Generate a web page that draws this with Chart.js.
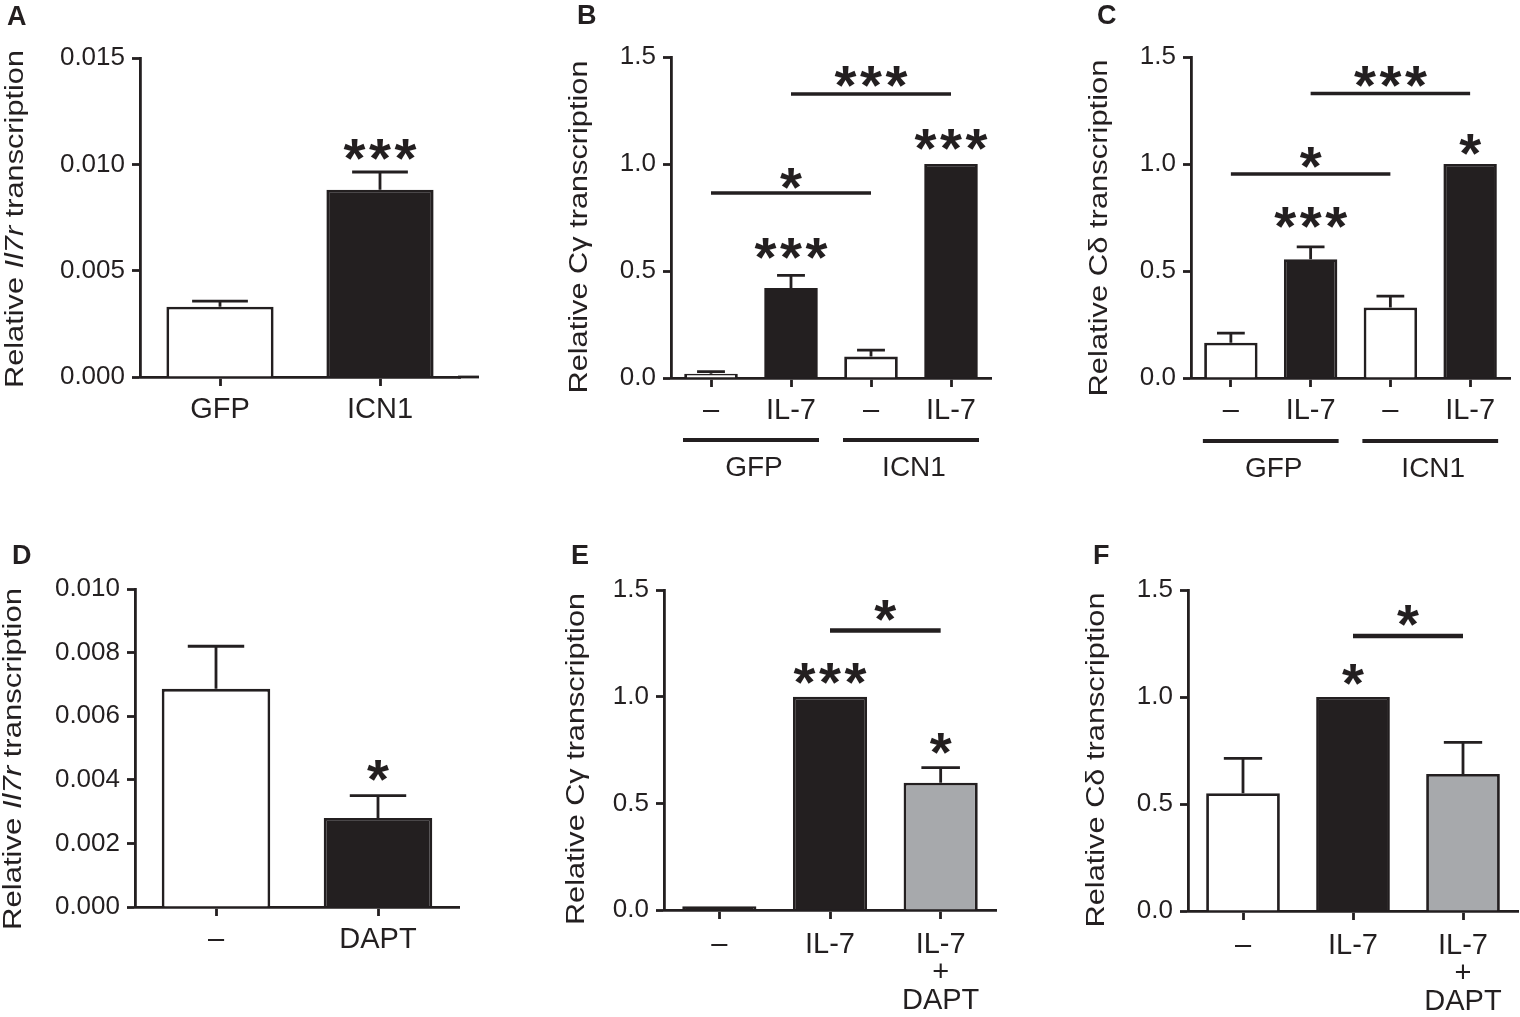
<!DOCTYPE html>
<html>
<head>
<meta charset="utf-8">
<script src="https://cdn.jsdelivr.net/npm/chart.js@4.4.1/dist/chart.umd.min.js"></script>
<style>
html,body{margin:0;padding:0;background:#ffffff;}
body{width:1520px;height:1017px;position:relative;overflow:hidden;}
canvas{position:absolute;display:block;}
</style>
</head>
<body>
<canvas id="cA" width="500" height="490" style="left:0px;top:0px"></canvas>
<canvas id="cB" width="520" height="490" style="left:500px;top:0px"></canvas>
<canvas id="cC" width="500" height="490" style="left:1020px;top:0px"></canvas>
<canvas id="cD" width="500" height="527" style="left:0px;top:490px"></canvas>
<canvas id="cE" width="520" height="527" style="left:500px;top:490px"></canvas>
<canvas id="cF" width="500" height="527" style="left:1020px;top:490px"></canvas>
<script>
// ---------------- DATA ----------------
// Panel A: Il7r transcription, GFP vs ICN1
const aCategories = ['GFP', 'ICN1'];
const aValues = [0.0033, 0.0088];
const aErrors = [0.00027, 0.00084];
const aYTicks = [0, 0.005, 0.010, 0.015];
const aMarks = [{cat: 1, text: '***', at: 0.0107}];
const aBrackets = [];

// Panel B: Cγ transcription
const bCategories = ['–', 'IL-7', '–', 'IL-7'];
const bGroups = [{label: 'GFP', from: 0, to: 1}, {label: 'ICN1', from: 2, to: 3}];
const bValues = [0.02, 0.42, 0.10, 1.0];
const bErrors = [0.01, 0.06, 0.03, 0];
const bYTicks = [0, 0.5, 1.0, 1.5];
const bMarks = [{cat: 1, text: '***', at: 0.607}, {cat: 3, text: '***', at: 1.115}];
const bBrackets = [{from: 0, to: 2, at: 0.865, text: '*', textAt: 0.93},
                   {from: 1, to: 3, at: 1.327, text: '***', textAt: 1.41}];

// Panel C: Cδ transcription
const cCategories = ['–', 'IL-7', '–', 'IL-7'];
const cGroups = [{label: 'GFP', from: 0, to: 1}, {label: 'ICN1', from: 2, to: 3}];
const cValues = [0.165, 0.555, 0.33, 1.0];
const cErrors = [0.045, 0.058, 0.053, 0];
const cYTicks = [0, 0.5, 1.0, 1.5];
const cMarks = [{cat: 1, text: '***', at: 0.752}, {cat: 3, text: '*', at: 1.093}];
const cBrackets = [{from: 0, to: 2, at: 0.953, text: '*', textAt: 1.03},
                   {from: 1, to: 3, at: 1.33, text: '***', textAt: 1.41}];

// Panel D: Il7r transcription, – vs DAPT
const dCategories = ['–', 'DAPT'];
const dValues = [0.00686, 0.0028];
const dErrors = [0.00134, 0.0007];
const dYTicks = [0, 0.002, 0.004, 0.006, 0.008, 0.010];
const dMarks = [{cat: 1, text: '*', at: 0.0043}];
const dBrackets = [];

// Panel E: Cγ transcription
const eCategories = ['–', 'IL-7', ['IL-7', '+', 'DAPT']];
const eValues = [0.017, 1.0, 0.597];
const eErrors = [0, 0, 0.07];
const eYTicks = [0, 0.5, 1.0, 1.5];
const eMarks = [{cat: 1, text: '***', at: 1.11}, {cat: 2, text: '*', at: 0.782}];
const eBrackets = [{from: 1, to: 2, at: 1.31, text: '*', textAt: 1.406}];

// Panel F: Cδ transcription
const fCategories = ['–', 'IL-7', ['IL-7', '+', 'DAPT']];
const fValues = [0.55, 1.0, 0.64];
const fErrors = [0.163, 0, 0.148];
const fYTicks = [0, 0.5, 1.0, 1.5];
const fMarks = [{cat: 1, text: '*', at: 1.107}];
const fBrackets = [{from: 1, to: 2, at: 1.285, text: '*', textAt: 1.381}];

// ---------------- STYLE ----------------
const FONT = "'Liberation Sans', Arial, Helvetica, sans-serif";
const INK = '#231f20';
const WHITE = '#ffffff';
const GREY = '#a7a9ac';
const LW = 2.8;

const panels = [
  {id: 'cA', letter: 'A', letterPos: [7, 24], cats: aCategories, values: aValues, errors: aErrors,
   yTicks: aYTicks, decimals: 3, fills: [WHITE, INK], marks: aMarks, brackets: aBrackets, groups: [],
   title: [['Relative ', ''], ['Il7r', 'italic '], [' transcription', '']],
   titleBase: 23, titleCenter: 219, titleLen: 338,
   box: {yW: 140, padT: 58, padR: 40, xH: 113}, axisExt: 19, tickPad: 10, bracketW: 3.5},
  {id: 'cB', letter: 'B', letterPos: [77, 23], cats: bCategories, values: bValues, errors: bErrors,
   yTicks: bYTicks, decimals: 1, fills: [WHITE, INK, WHITE, INK], marks: bMarks, brackets: bBrackets, groups: bGroups,
   title: [['Relative Cγ transcription', '']],
   titleBase: 87, titleCenter: 227, titleLen: 333,
   box: {yW: 171, padT: 57, padR: 29, xH: 112}, axisExt: 0, tickPad: 10, bracketW: 3.5,
   groupLineY: 440, groupTextY: 476, groupExt: 28},
  {id: 'cC', letter: 'C', letterPos: [77, 23], cats: cCategories, values: cValues, errors: cErrors,
   yTicks: cYTicks, decimals: 1, fills: [WHITE, INK, WHITE, INK], marks: cMarks, brackets: cBrackets, groups: cGroups,
   title: [['Relative Cδ transcription', '']],
   titleBase: 87, titleCenter: 228, titleLen: 337,
   box: {yW: 171, padT: 57, padR: 10, xH: 112}, axisExt: 0, tickPad: 10, bracketW: 3.5,
   groupLineY: 441, groupTextY: 477, groupExt: 28},
  {id: 'cD', letter: 'D', letterPos: [12, 73], cats: dCategories, values: dValues, errors: dErrors,
   yTicks: dYTicks, decimals: 3, fills: [WHITE, INK], marks: dMarks, brackets: dBrackets, groups: [],
   title: [['Relative ', ''], ['Il7r', 'italic '], [' transcription', '']],
   titleBase: 21, titleCenter: 269, titleLen: 342,
   box: {yW: 135, padT: 99, padR: 41, xH: 110}, axisExt: 0, tickPad: 10, bracketW: 3.5},
  {id: 'cE', letter: 'E', letterPos: [71, 73], cats: eCategories, values: eValues, errors: eErrors,
   yTicks: eYTicks, decimals: 1, fills: [INK, INK, GREY], marks: eMarks, brackets: eBrackets, groups: [],
   title: [['Relative Cγ transcription', '']],
   titleBase: 84, titleCenter: 269, titleLen: 332,
   box: {yW: 164, padT: 100, padR: 24, xH: 107}, axisExt: 0, tickPad: 12, bracketW: 4.5},
  {id: 'cF', letter: 'F', letterPos: [73, 73], cats: fCategories, values: fValues, errors: fErrors,
   yTicks: fYTicks, decimals: 1, fills: [WHITE, INK, GREY], marks: fMarks, brackets: fBrackets, groups: [],
   title: [['Relative Cδ transcription', '']],
   titleBase: 84, titleCenter: 270, titleLen: 335,
   box: {yW: 168, padT: 100, padR: 2, xH: 106}, axisExt: 0, tickPad: 12, bracketW: 4.5}
];

function drawStars(ctx, text, cx, cy) {
  ctx.save();
  ctx.fillStyle = INK;
  ctx.font = 'bold 100px ' + FONT;
  const m100 = ctx.measureText('*');
  const w100 = m100.actualBoundingBoxLeft + m100.actualBoundingBoxRight;
  const size = 100 * 22 / w100;
  ctx.font = 'bold ' + size.toFixed(1) + 'px ' + FONT;
  ctx.textAlign = 'center';
  ctx.textBaseline = 'alphabetic';
  const m = ctx.measureText('*');
  const dy = (m.actualBoundingBoxAscent - m.actualBoundingBoxDescent) / 2;
  const dx = (m.actualBoundingBoxLeft - m.actualBoundingBoxRight) / 2;
  const n = text.length;
  const sp = 25.5;
  for (let i = 0; i < n; i++) {
    const x = cx + (i - (n - 1) / 2) * sp;
    ctx.fillText('*', x + dx, cy + dy);
  }
  ctx.restore();
}

function makeExtras(p) {
  return {
    id: 'extras_' + p.id,
    afterDatasetsDraw(chart) {
      const ctx = chart.ctx;
      const xs = chart.scales.x, ys = chart.scales.y;
      const area = chart.chartArea;
      ctx.save();
      ctx.strokeStyle = INK;
      ctx.fillStyle = INK;
      ctx.lineCap = 'butt';
      // axis extension to the right (panel A)
      if (p.axisExt) {
        ctx.lineWidth = LW;
        ctx.beginPath();
        ctx.moveTo(area.right - 2, area.bottom);
        ctx.lineTo(area.right + p.axisExt, area.bottom);
        ctx.stroke();
      }
      // error bars (upper)
      const meta = chart.getDatasetMeta(0);
      ctx.lineWidth = LW;
      meta.data.forEach((bar, i) => {
        const e = p.errors[i];
        if (!e) return;
        const props = bar.getProps(['x', 'width'], true);
        const yv = ys.getPixelForValue(p.values[i]);
        const yt = ys.getPixelForValue(p.values[i] + e);
        const hw = props.width * 0.26;
        ctx.beginPath();
        ctx.moveTo(props.x, yv);
        ctx.lineTo(props.x, yt);
        ctx.moveTo(props.x - hw, yt);
        ctx.lineTo(props.x + hw, yt);
        ctx.stroke();
      });
      // significance marks over bars
      p.marks.forEach(mk => {
        drawStars(ctx, mk.text, xs.getPixelForValue(mk.cat), ys.getPixelForValue(mk.at));
      });
      // brackets
      p.brackets.forEach(b => {
        const x0 = xs.getPixelForValue(b.from), x1 = xs.getPixelForValue(b.to);
        const y = ys.getPixelForValue(b.at);
        ctx.lineWidth = p.bracketW;
        ctx.beginPath();
        ctx.moveTo(x0, y);
        ctx.lineTo(x1, y);
        ctx.stroke();
        drawStars(ctx, b.text, (x0 + x1) / 2, ys.getPixelForValue(b.textAt));
      });
      // group underlines + labels
      p.groups.forEach(g => {
        const x0 = xs.getPixelForValue(g.from) - p.groupExt;
        const x1 = xs.getPixelForValue(g.to) + p.groupExt;
        ctx.lineWidth = 3.8;
        ctx.beginPath();
        ctx.moveTo(x0, p.groupLineY);
        ctx.lineTo(x1, p.groupLineY);
        ctx.stroke();
        ctx.font = '28px ' + FONT;
        ctx.textAlign = 'center';
        ctx.textBaseline = 'alphabetic';
        ctx.fillText(g.label, (x0 + x1) / 2 + 3, p.groupTextY);
      });
      // y-axis title (rotated, with italic gene name)
      ctx.save();
      ctx.translate(p.titleBase, p.titleCenter);
      ctx.rotate(-Math.PI / 2);
      const fs = 26;
      let total = 0;
      const widths = p.title.map(seg => {
        ctx.font = seg[1] + fs + 'px ' + FONT;
        const w = ctx.measureText(seg[0]).width;
        total += w;
        return w;
      });
      const s = p.titleLen / total;
      ctx.scale(s, 1);
      ctx.textAlign = 'left';
      ctx.textBaseline = 'alphabetic';
      let x = -total / 2;
      p.title.forEach((seg, i) => {
        ctx.font = seg[1] + fs + 'px ' + FONT;
        ctx.fillText(seg[0], x, 0);
        x += widths[i];
      });
      ctx.restore();
      // panel letter
      ctx.font = 'bold 27px ' + FONT;
      ctx.textAlign = 'left';
      ctx.textBaseline = 'alphabetic';
      ctx.fillText(p.letter, p.letterPos[0], p.letterPos[1] + 1);
      ctx.restore();
    }
  };
}

function makeChart(p) {
  const el = document.getElementById(p.id);
  return new Chart(el, {
    type: 'bar',
    data: {
      labels: p.cats,
      datasets: [{
        data: p.values,
        backgroundColor: p.fills,
        borderColor: INK,
        borderWidth: LW,
        borderSkipped: 'start',
        categoryPercentage: 1.0,
        barPercentage: 0.67
      }]
    },
    options: {
      responsive: false,
      animation: false,
      devicePixelRatio: 1,
      events: [],
      layout: {padding: {left: 0, top: p.box.padT, right: p.box.padR, bottom: 0}},
      plugins: {legend: {display: false}, tooltip: {enabled: false}, title: {display: false}},
      scales: {
        x: {
          type: 'category',
          offset: true,
          grid: {display: true, drawOnChartArea: false, drawTicks: true, offset: false,
                 tickLength: 9, tickWidth: LW, tickColor: INK, color: INK},
          border: {display: true, color: INK, width: LW},
          ticks: {color: INK, font: {family: FONT, size: 29, lineHeight: 0.97},
                  padding: p.tickPad, maxRotation: 0, minRotation: 0, autoSkip: false},
          afterFit(scale) { scale.height = p.box.xH; }
        },
        y: {
          type: 'linear',
          min: p.yTicks[0],
          max: p.yTicks[p.yTicks.length - 1],
          grid: {display: true, drawOnChartArea: false, drawTicks: true,
                 tickLength: 8, tickWidth: LW, tickColor: INK, color: INK},
          border: {display: true, color: INK, width: LW},
          ticks: {color: INK, font: {family: FONT, size: 26}, padding: 7,
                  callback: v => Number(v).toFixed(p.decimals)},
          afterBuildTicks(scale) { scale.ticks = p.yTicks.map(v => ({value: v})); },
          afterFit(scale) { scale.width = p.box.yW; }
        }
      }
    },
    plugins: [makeExtras(p)]
  });
}

panels.forEach(makeChart);
</script>
</body>
</html>
